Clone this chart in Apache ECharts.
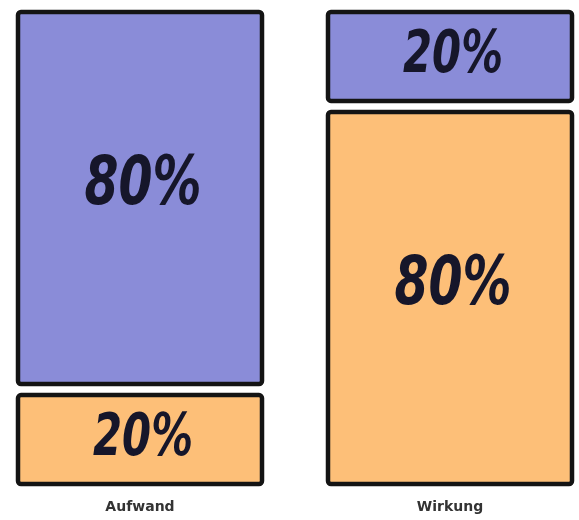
<!DOCTYPE html>
<html><head><meta charset="utf-8">
<script src="https://cdn.jsdelivr.net/npm/echarts@6/dist/echarts.min.js"></script>
<style>html,body{margin:0;padding:0;background:#fff}#c{width:579px;height:520px}</style>
</head><body><div id="c"></div>
<script>
var categories = ['Aufwand', 'Wirkung'];
var orangeValues = [20, 80];   // bottom segment
var blueValues = [80, 20];     // top segment

var GAP = 11, HALF_W = 122;
function makeData(bottomArr, topArr, isTop) {
  return categories.map(function (c, i) {
    var start = isTop ? bottomArr[i] : 0;
    var end = isTop ? bottomArr[i] + topArr[i] : bottomArr[i];
    var v = isTop ? topArr[i] : bottomArr[i];
    return [i, start, end, v];
  });
}
function render(color) {
  return function (params, api) {
    var i = api.value(0), s = api.value(1), e = api.value(2), v = api.value(3);
    var pb = api.coord([i, s]), pt = api.coord([i, e]);
    var bottom = pb[1], top = pt[1];
    if (s > 0) bottom -= GAP / 2;
    if (e < 100) top += GAP / 2;
    var cx = pb[0];
    var big = v >= 50;
    return {
      type: 'group',
      children: [
        { type: 'rect', shape: { x: cx - HALF_W, y: top, width: HALF_W * 2, height: bottom - top, r: 3 },
          style: { fill: color, stroke: '#141414', lineWidth: 4.5 } },
        { type: 'text', x: cx + 3, y: big ? (top + bottom) / 2 - 12 : (top + bottom) / 2,
          scaleX: 0.72,
          style: { text: v + '%', align: 'center', verticalAlign: 'middle', fill: '#16162a',
                   font: 'italic bold ' + (big ? 68 : 58) + 'px "DejaVu Sans", sans-serif' } }
      ]
    };
  };
}
var chart = echarts.init(document.getElementById('c'), null, { renderer: 'canvas' });
chart.setOption({
  animation: false,
  grid: { left: -15, right: -26, top: 12, bottom: 36, outerBoundsMode: 'none', containLabel: false },
  xAxis: { type: 'category', data: categories, axisLine: { show: false }, axisTick: { show: false },
    axisLabel: { color: '#333', fontWeight: 'bold', fontSize: 14, fontFamily: 'DejaVu Sans', margin: 16 } },
  yAxis: { type: 'value', min: 0, max: 100, show: false },
  series: [
    { type: 'custom', renderItem: render('#fdbf78'), data: makeData(orangeValues, blueValues, false) },
    { type: 'custom', renderItem: render('#8a8cd8'), data: makeData(orangeValues, blueValues, true) }
  ]
});
</script></body></html>
